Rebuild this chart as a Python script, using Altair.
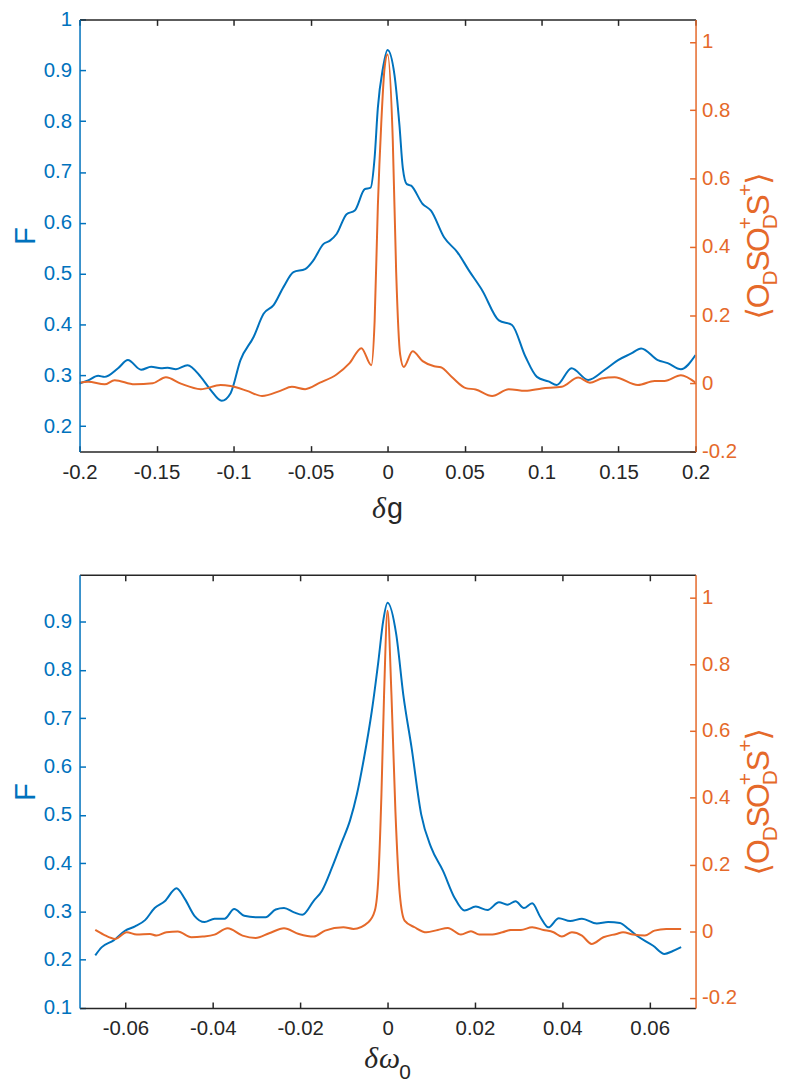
import altair as alt
import pandas as pd

# ---------------- data ----------------
# top panel: x = delta g
top_blue_x = [-0.2, -0.1944, -0.1879, -0.1837, -0.175, -0.1686, -0.16, -0.1535, -0.1471, -0.1428,
              -0.1374, -0.1299, -0.1213, -0.1148, -0.1077, -0.1019, -0.0955, -0.0869, -0.0805, -0.074,
              -0.0675, -0.0611, -0.0535, -0.0482, -0.0417, -0.0374, -0.0331, -0.0266, -0.0213, -0.0148,
              -0.011, -0.0084, -0.0063, -0.003, 0.0, 0.0045, 0.0077, 0.0099, 0.0125, 0.0153,
              0.0228, 0.0282, 0.0368, 0.0454, 0.0529, 0.0615, 0.0723, 0.0808, 0.0895, 0.097,
              0.1045, 0.1099, 0.1195, 0.1303, 0.1411, 0.1497, 0.1583, 0.1647, 0.1755, 0.1819,
              0.1905, 0.2]
top_blue_F = [0.284, 0.290, 0.299, 0.297, 0.314, 0.330, 0.311, 0.317, 0.314, 0.315,
              0.312, 0.320, 0.297, 0.271, 0.250, 0.265, 0.330, 0.376, 0.421, 0.438,
              0.474, 0.503, 0.509, 0.526, 0.558, 0.565, 0.578, 0.617, 0.624, 0.666,
              0.669, 0.728, 0.826, 0.904, 0.940, 0.891, 0.793, 0.708, 0.676, 0.673,
              0.637, 0.624, 0.571, 0.542, 0.506, 0.467, 0.408, 0.399, 0.337, 0.297,
              0.288, 0.281, 0.314, 0.291, 0.311, 0.330, 0.343, 0.353, 0.330, 0.324,
              0.312, 0.340]
top_orange_x = [-0.2, -0.1944, -0.1837, -0.1772, -0.1643, -0.1525, -0.1439, -0.1342, -0.1213, -0.1084,
                -0.1019, -0.0912, -0.0815, -0.0697, -0.0621, -0.0535, -0.0439, -0.0331, -0.0245, -0.017,
                -0.0105, -0.0084, -0.0063, -0.0041, -0.0019, 0.0, 0.0034, 0.0056, 0.0082, 0.0105,
                0.0163, 0.0228, 0.0303, 0.0346, 0.0421, 0.0508, 0.0572, 0.0679, 0.0787, 0.0895,
                0.1002, 0.1131, 0.1239, 0.1314, 0.1389, 0.1475, 0.1626, 0.1734, 0.1798, 0.1905,
                0.2]
top_orange_O = [0.002, 0.005, -0.003, 0.009, -0.003, 0.000, 0.018, -0.001, -0.017, -0.005,
                -0.008, -0.022, -0.037, -0.022, -0.010, -0.017, 0.002, 0.026, 0.060, 0.103,
                0.053, 0.181, 0.519, 0.760, 0.925, 0.963, 0.712, 0.326, 0.084, 0.048,
                0.094, 0.065, 0.050, 0.047, 0.017, -0.014, -0.018, -0.037, -0.017, -0.022,
                -0.015, -0.010, 0.017, 0.002, 0.014, 0.018, -0.005, 0.007, 0.007, 0.024,
                0.002]

# bottom panel: x = delta omega_0
bot_blue_x = [-0.0669, -0.0654, -0.0627, -0.0601, -0.0578, -0.0555, -0.0533, -0.051, -0.0483, -0.0464,
              -0.0442, -0.0419, -0.0396, -0.0373, -0.0351, -0.0328, -0.0302, -0.0279, -0.0256, -0.0237,
              -0.0214, -0.0195, -0.0169, -0.015, -0.0127, -0.0105, -0.0086, -0.007, -0.0055, -0.0036,
              -0.0021, -0.001, 0.0, 0.002, 0.0036, 0.0055, 0.0077, 0.01, 0.0127, 0.0153,
              0.0176, 0.0202, 0.0229, 0.0255, 0.0274, 0.0293, 0.0312, 0.0331, 0.035, 0.0368,
              0.0392, 0.0418, 0.0445, 0.0479, 0.0505, 0.0532, 0.0551, 0.057, 0.0608, 0.0634,
              0.0653, 0.0672]
bot_blue_F = [0.209, 0.226, 0.240, 0.260, 0.269, 0.282, 0.307, 0.321, 0.348, 0.326,
              0.291, 0.278, 0.285, 0.285, 0.305, 0.291, 0.288, 0.288, 0.304, 0.307,
              0.298, 0.293, 0.322, 0.343, 0.391, 0.443, 0.488, 0.543, 0.612, 0.715,
              0.818, 0.901, 0.939, 0.873, 0.749, 0.639, 0.501, 0.432, 0.384, 0.329,
              0.302, 0.310, 0.303, 0.319, 0.314, 0.321, 0.307, 0.317, 0.288, 0.267,
              0.286, 0.280, 0.285, 0.275, 0.278, 0.276, 0.264, 0.250, 0.229, 0.212,
              0.218, 0.226]
bot_orange_x = [-0.0669, -0.065, -0.0623, -0.0597, -0.0574, -0.0544, -0.0529, -0.0506, -0.048, -0.0449,
                -0.0423, -0.0396, -0.0366, -0.0332, -0.0302, -0.0271, -0.0237, -0.0203, -0.0169, -0.0143,
                -0.0101, -0.0078, -0.0044, -0.0029, -0.0021, -0.0014, -0.0008, 0.0, 0.0009, 0.0018,
                0.0028, 0.0039, 0.0062, 0.0089, 0.0115, 0.0138, 0.0168, 0.0191, 0.021, 0.0236,
                0.0263, 0.0282, 0.0305, 0.0331, 0.0357, 0.038, 0.0399, 0.0422, 0.0445, 0.0467,
                0.0494, 0.0524, 0.0539, 0.0562, 0.0589, 0.0611, 0.0638, 0.0672]
bot_orange_O = [0.004, -0.010, -0.023, -0.003, -0.010, -0.008, -0.013, -0.003, -0.001, -0.018,
                -0.016, -0.010, 0.009, -0.013, -0.020, -0.006, 0.009, -0.008, -0.016, 0.002,
                0.012, 0.007, 0.027, 0.062, 0.161, 0.409, 0.707, 0.960, 0.707, 0.360,
                0.111, 0.032, 0.012, -0.003, 0.004, 0.010, -0.010, 0.000, -0.010, -0.010,
                -0.003, 0.004, 0.004, 0.012, 0.004, -0.003, -0.016, -0.003, -0.013, -0.038,
                -0.018, -0.008, -0.003, -0.010, -0.013, 0.002, 0.007, 0.007]

# tick values
top_x_ticks = [-0.2, -0.15, -0.1, -0.05, 0, 0.05, 0.1, 0.15, 0.2]
bot_x_ticks = [-0.06, -0.04, -0.02, 0, 0.02, 0.04, 0.06]
top_F_ticks = [0.2, 0.3, 0.4, 0.5, 0.6, 0.7, 0.8, 0.9, 1]
bot_F_ticks = [0.1, 0.2, 0.3, 0.4, 0.5, 0.6, 0.7, 0.8, 0.9]
O_ticks = [-0.2, 0, 0.2, 0.4, 0.6, 0.8, 1]

# ---------------- styling ----------------
BLUE = "#0072BD"
ORANGE = "#E5692A"
AX = "#262626"
FONT = "Liberation Sans"
SERIF = "Liberation Serif"
W, H = 620, 435
LAB = 20.5
TK = 6

ADV = {"O": 0.778, "S": 0.667, "D": 0.722, "+": 0.584, "\u27e8": 0.39, "\u27e9": 0.39,
       "g": 0.556, "0": 0.556, "\u03b4": 0.5, "\u03c9": 0.68}


def txt(t, x, y, size, color, font=FONT, style="normal", angle=0):
    return alt.Chart(alt.Data(values=[{}])).mark_text(
        text=t, font=font, fontSize=size, fontStyle=style, color=color, angle=angle,
        align="left", baseline="alphabetic").encode(x=alt.value(x), y=alt.value(y))


def right_title(x0, ymid):
    B, s = 32, 21
    k = 0.92
    pieces = [("\u27e8", B, 0, True, "DejaVu Sans"), ("O", B, 0, True, FONT), ("D", s, 8, True, FONT),
              ("S", B, 0, True, FONT), ("O", B, 0, True, FONT), ("+", s, -17, False, FONT),
              ("D", s, 8, True, FONT), ("S", B, 0, True, FONT), ("+", s, -17, True, FONT),
              ("\u27e9", B, 0, True, "DejaVu Sans")]
    L = sum(k * ADV[p[0]] * p[1] for p in pieces if p[3])
    u = 0.0
    out = []
    start = ymid + L / 2
    for t, sz, sh, adv, f in pieces:
        out.append(txt(t, x0 + sh, start - u, sz, ORANGE, font=f, angle=270))
        if adv:
            u += k * ADV[t] * sz
    return out


def x_title(pieces, xmid, ybase):
    # pieces: (text, size, dy, font, style)
    L = sum(ADV[p[0]] * p[1] for p in pieces)
    x = xmid - L / 2
    out = []
    for t, sz, dy, f, st in pieces:
        out.append(txt(t, x, ybase + dy, sz, AX, font=f, style=st))
        x += ADV[t] * sz
    return out


def panel(bx, bF, ox, oO, xdom, xvals, Fdom, Fvals, Odom, Ovals, xt_pieces, xt_base, w, h):
    xs = alt.Scale(domain=xdom, nice=False, zero=False)
    Fs = alt.Scale(domain=Fdom, nice=False, zero=False)
    Os = alt.Scale(domain=Odom, nice=False, zero=False)
    lab = "'' + datum.value"
    tick_common = dict(grid=False, domain=False, offset=-TK, tickSize=TK, tickWidth=1.5,
                       labelFont=FONT, labelFontSize=LAB, labelExpr=lab, labelFlush=False,
                       labelOverlap=False)
    dom_common = dict(grid=False, domain=True, ticks=False, labels=False, title=None,
                      domainWidth=1.5)
    dB = pd.DataFrame({"x": bx, "F": bF})
    dO = pd.DataFrame({"x": ox, "O": oO})

    blue = alt.Chart(dB).mark_line(color=BLUE, strokeWidth=2, interpolate="monotone", clip=True).encode(
        x=alt.X("x:Q", scale=xs, axis=alt.Axis(orient="bottom", values=xvals, title=None,
                                               labelColor=AX, tickColor=AX, labelPadding=11, **tick_common)),
        y=alt.Y("F:Q", scale=Fs, axis=alt.Axis(orient="left", values=Fvals, title="F", titleColor=BLUE,
                                               titleFont=FONT, titleFontSize=29, titleFontWeight="normal",
                                               titlePadding=3, labelColor=BLUE, tickColor=BLUE,
                                               labelPadding=8, **tick_common)))
    orange = alt.Chart(dO).mark_line(color=ORANGE, strokeWidth=2, interpolate="monotone", clip=True).encode(
        x=alt.X("x:Q", scale=xs, axis=alt.Axis(orient="top", values=xvals, title=None, labels=False,
                                               tickColor=AX, grid=False, domain=False, offset=-TK,
                                               tickSize=TK, tickWidth=1.5)),
        y=alt.Y("O:Q", scale=Os, axis=alt.Axis(orient="right", values=Ovals, title=None,
                                               labelColor=ORANGE, tickColor=ORANGE, labelPadding=6,
                                               **tick_common)))
    blue_dom = alt.Chart(dB).mark_line(opacity=0).encode(
        x=alt.X("x:Q", scale=xs, axis=alt.Axis(orient="bottom", domainColor=AX, zindex=1, **dom_common)),
        y=alt.Y("F:Q", scale=Fs, axis=alt.Axis(orient="left", domainColor=BLUE, zindex=2, **dom_common)))
    orange_dom = alt.Chart(dO).mark_line(opacity=0).encode(
        x=alt.X("x:Q", scale=xs, axis=alt.Axis(orient="top", domainColor=AX, zindex=1, **dom_common)),
        y=alt.Y("O:Q", scale=Os, axis=alt.Axis(orient="right", domainColor=ORANGE, zindex=2, **dom_common)))

    layers = [blue_dom, orange_dom, blue, orange]
    layers += right_title(w + 74, h / 2 + 11)
    layers += x_title(xt_pieces, w / 2, xt_base)
    return alt.layer(*layers).resolve_scale(y="independent").resolve_axis(
        x="independent", y="independent").properties(width=w, height=h)


top = panel(top_blue_x, top_blue_F, top_orange_x, top_orange_O,
            [-0.2, 0.2], top_x_ticks, [0.15, 1.0], top_F_ticks, [-0.2, 1.066], O_ticks,
            [("\u03b4", 30, 0, SERIF, "italic"), ("g", 29, 0, FONT, "normal")], H + 67, W, H)
bottom = panel(bot_blue_x, bot_blue_F, bot_orange_x, bot_orange_O,
               [-0.0705, 0.0705], bot_x_ticks, [0.1, 0.997], bot_F_ticks, [-0.23, 1.068], O_ticks,
               [("\u03b4", 30, 0, SERIF, "italic"), ("\u03c9", 30, 0, SERIF, "italic"),
                ("0", 21, 11, FONT, "normal")], H + 61, W, H + 1)

chart = alt.vconcat(top, bottom, spacing=50).properties(
    padding={"left": 3, "top": -2, "right": 0, "bottom": 0}
).configure_view(stroke=None)

chart.save("out.html", embed_options={"renderer": "svg", "actions": False})
